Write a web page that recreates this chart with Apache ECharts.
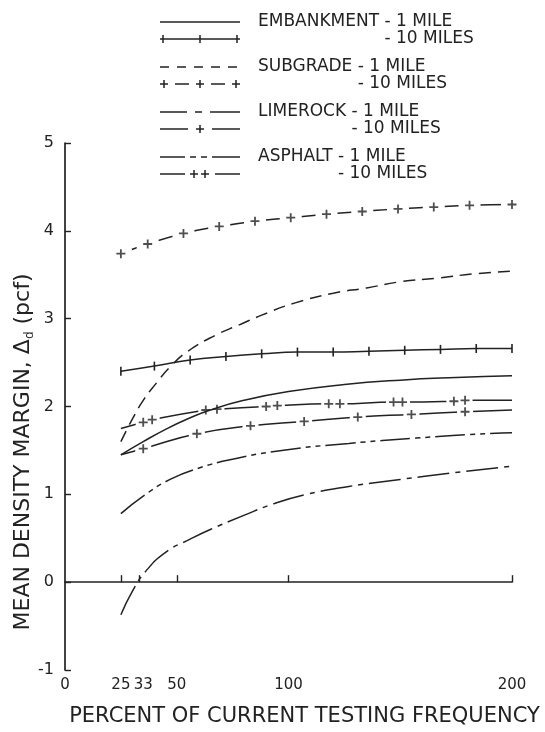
<!DOCTYPE html>
<html>
<head>
<meta charset="utf-8">
<script src="https://cdn.jsdelivr.net/npm/echarts@6/dist/echarts.min.js"></script>
<style>
  html, body { margin: 0; padding: 0; background: #fff; }
  #chart { width: 545px; height: 732px; }
</style>
</head>
<body>
<div id="chart"></div>
<script>
// Mean density margin (pcf) against percent of current testing frequency,
// for four materials and two project lengths (1 mile, 10 miles).

const xTickValues = [25, 33, 50, 100, 200];
const xLabelValues = [0, 25, 33, 50, 100, 200];

const embankment1Mile = [[25, 1.45], [35, 1.60], [45, 1.74], [55, 1.86], [65, 1.96], [80, 2.07],
  [100, 2.17], [125, 2.25], [150, 2.30], [175, 2.33], [200, 2.35]];
const embankment10Miles = [[25, 2.40], [40, 2.46], [56, 2.53], [72, 2.57], [88, 2.60], [104, 2.62],
  [120, 2.62], [136, 2.63], [152, 2.64], [168, 2.65], [184, 2.66], [200, 2.66]];

const subgrade1Mile = [[25, 1.60], [30, 1.85], [35, 2.07], [41, 2.27], [47, 2.45], [55, 2.63],
  [68, 2.82], [78, 2.93], [88, 3.04], [103, 3.18], [120, 3.29], [135, 3.35], [150, 3.42],
  [166, 3.46], [183, 3.51], [200, 3.54]];
const subgrade10Miles = [[25, 3.74], [37, 3.85], [53, 3.97], [69, 4.05], [85, 4.11], [101, 4.15],
  [117, 4.19], [133, 4.22], [149, 4.25], [165, 4.27], [181, 4.29], [200, 4.30]];

const limerock1Mile = [[25, -0.37], [30, -0.11], [36, 0.12], [45, 0.34], [56, 0.49], [65, 0.60],
  [80, 0.76], [93, 0.89], [108, 1.00], [127, 1.09], [150, 1.17], [172, 1.24], [200, 1.32]];
const limerock10Miles = [[25, 1.45], [35, 1.52], [59, 1.69], [83, 1.78], [107, 1.83], [131, 1.88],
  [155, 1.91], [179, 1.94], [200, 1.96]];

const asphalt1Mile = [[25, 0.78], [35, 0.98], [47, 1.17], [60, 1.30], [75, 1.40], [97, 1.50],
  [127, 1.58], [157, 1.64], [180, 1.68], [200, 1.70]];
const asphalt10Miles = [[25, 1.75], [35, 1.82], [39, 1.85], [63, 1.96], [68, 1.97], [90, 2.00],
  [95, 2.01], [118, 2.03], [123, 2.03], [147, 2.05], [151, 2.05], [174, 2.06], [179, 2.07], [200, 2.07]];

const materials = ['EMBANKMENT', 'SUBGRADE', 'LIMEROCK', 'ASPHALT'];
const oneMileText = '- 1 MILE';
const tenMilesText = '- 10 MILES';
const xTitle = 'PERCENT OF CURRENT TESTING FREQUENCY';

const INK = '#222222';
const FONT = '"DejaVu Sans", "Liberation Sans", sans-serif';
const PLUS = 'path://M4,0H6V4H10V6H6V10H4V6H0V4H4Z';
const TICK = 'path://M0,0H2V10H0Z';
const LW = 1.5;
const SMOOTH = 0.5;

function plainLine(name, data, dash) {
  return {
    type: 'line', name, data, smooth: SMOOTH, showSymbol: false, z: 3,
    silent: true, lineStyle: { color: INK, width: LW, type: dash || 'solid' }
  };
}

function tickedLine(name, data) {
  return {
    type: 'line', name, data, smooth: SMOOTH, z: 3, silent: true,
    showSymbol: true, showAllSymbol: true, symbol: TICK, symbolSize: [1.6, 9],
    itemStyle: { color: INK }, lineStyle: { color: INK, width: LW }
  };
}

// solid line broken by a white gap at each marker, with a "+" drawn in the gap
function gappedLine(name, data, gapW, gapH, skipEnds) {
  const n = data.length;
  const pick = s => (v, p) => (skipEnds && (p.dataIndex === 0 || p.dataIndex === n - 1)) ? 'none' : s;
  return [
    {
      type: 'line', name, data, smooth: SMOOTH, z: 2, silent: true,
      showSymbol: true, showAllSymbol: true, symbol: pick('rect'), symbolSize: [gapW, gapH],
      itemStyle: { color: '#fff', borderWidth: 0 }, lineStyle: { color: INK, width: LW }
    },
    {
      type: 'scatter', name: name + ' +', data, z: 5, silent: true,
      symbol: pick(PLUS), symbolSize: 9, itemStyle: { color: INK }
    }
  ];
}

// ---- legend (samples + labels) ----
const measureCtx = document.createElement('canvas').getContext('2d');
function textWidth(t, size) {
  measureCtx.font = size + 'px ' + FONT;
  return measureCtx.measureText(t).width;
}

const legendSize = 17;
const legendX0 = 160, legendX1 = 240, legendTextX = 258;
const legendRowTop = 22, legendGroupStep = 45, legendLineStep = 17;

function seg(x1, x2, y, dash) {
  return { type: 'line', shape: { x1, y1: y, x2, y2: y }, silent: true,
    style: { stroke: INK, lineWidth: LW, lineDash: dash || null } };
}
function vbar(x, y, h) {
  return { type: 'line', shape: { x1: x, y1: y - h / 2, x2: x, y2: y + h / 2 }, silent: true,
    style: { stroke: INK, lineWidth: 1.5 } };
}
function plus(x, y) {
  return [seg(x - 4, x + 4, y), vbar(x, y, 8)];
}

const sampleBuilders = [
  // embankment
  [y => [seg(legendX0, legendX1, y)],
   y => [seg(legendX0, legendX1, y), vbar(163, y, 8), vbar(200, y, 8), vbar(237, y, 8)]],
  // subgrade
  [y => [seg(legendX0, legendX1, y, [9, 8])],
   y => [...plus(164, y), seg(175, 189, y), ...plus(200, y), seg(211, 225, y), ...plus(236, y)]],
  // limerock
  [y => [seg(legendX0, 187, y), seg(195, 202, y), seg(210, legendX1, y)],
   y => [seg(legendX0, 188, y), ...plus(200, y), seg(212, legendX1, y)]],
  // asphalt
  [y => [seg(legendX0, 185, y), seg(190, 196, y), seg(201, 207, y), seg(212, legendX1, y)],
   y => [seg(legendX0, 185, y), ...plus(194, y), ...plus(205, y), seg(215, legendX1, y)]]
];

const graphics = [];
materials.forEach((m, i) => {
  const y1 = legendRowTop + i * legendGroupStep;
  const y2 = y1 + legendLineStep;
  graphics.push(...sampleBuilders[i][0](y1), ...sampleBuilders[i][1](y2));
  graphics.push({
    type: 'text', x: legendTextX, y: y1, silent: true,
    style: { text: m + ' ' + oneMileText, fill: INK, fontSize: legendSize, fontFamily: FONT, verticalAlign: 'middle' }
  });
  graphics.push({
    type: 'text', x: legendTextX + textWidth(m + ' ', legendSize), y: y2, silent: true,
    style: { text: tenMilesText, fill: INK, fontSize: legendSize, fontFamily: FONT, verticalAlign: 'middle' }
  });
});

// vertical axis title, drawn rotated beside the axis
graphics.push({
  type: 'text', x: 23, y: 452, rotation: Math.PI / 2, silent: true,
  style: {
    text: '{t|MEAN DENSITY MARGIN, Δ}{s|d}{t| (pcf)}',
    align: 'center', verticalAlign: 'middle',
    rich: {
      t: { fontSize: 22, fontFamily: FONT, fill: INK, lineHeight: 26 },
      s: { fontSize: 12, fontFamily: FONT, fill: INK, lineHeight: 12, verticalAlign: 'bottom' }
    }
  }
});

const chart = echarts.init(document.getElementById('chart'), null, { renderer: 'canvas' });

chart.setOption({
  animation: false,
  backgroundColor: '#fff',
  grid: { left: 65, right: 33, top: 143, bottom: 56 },
  xAxis: {
    type: 'value', min: 0, max: 200,
    name: xTitle,
    nameLocation: 'middle', nameGap: 36,
    nameTextStyle: { fontSize: 21, fontFamily: FONT, color: INK, padding: [0, 0, 0, 32] },
    axisLine: { lineStyle: { color: INK, width: 1.7 } },
    axisTick: { inside: true, length: 7, customValues: xTickValues, lineStyle: { color: INK, width: 1.4 } },
    axisLabel: {
      customValues: xLabelValues, fontSize: 15, fontFamily: FONT, color: INK, margin: 8,
      formatter: v => (v === 33 ? '{r|33}' : String(v)),
      rich: { r: { fontSize: 15, fontFamily: FONT, color: INK, padding: [0, 0, 0, 9] } }
    },
    splitLine: { show: false }
  },
  yAxis: {
    type: 'value', min: -1, max: 5, interval: 1,
    axisLine: { show: true, lineStyle: { color: INK, width: 1.7 } },
    axisTick: { show: true, inside: true, length: 6, lineStyle: { color: INK, width: 1.4 } },
    axisLabel: { fontSize: 16, fontFamily: FONT, color: INK, margin: 11 },
    splitLine: { show: false }
  },
  graphic: graphics,
  series: [
    ...gappedLine('SUBGRADE - 10 MILES', subgrade10Miles, 22, 10, false),
    ...gappedLine('LIMEROCK - 10 MILES', limerock10Miles, 16, 7, true),
    ...gappedLine('ASPHALT - 10 MILES', asphalt10Miles, 15, 7, true),
    plainLine('EMBANKMENT - 1 MILE', embankment1Mile),
    tickedLine('EMBANKMENT - 10 MILES', embankment10Miles),
    plainLine('SUBGRADE - 1 MILE', subgrade1Mile, [12, 7]),
    plainLine('LIMEROCK - 1 MILE', limerock1Mile, [32, 6, 5, 6]),
    plainLine('ASPHALT - 1 MILE', asphalt1Mile, [30, 5, 5, 5, 5, 5])
  ]
});
</script>
</body>
</html>
